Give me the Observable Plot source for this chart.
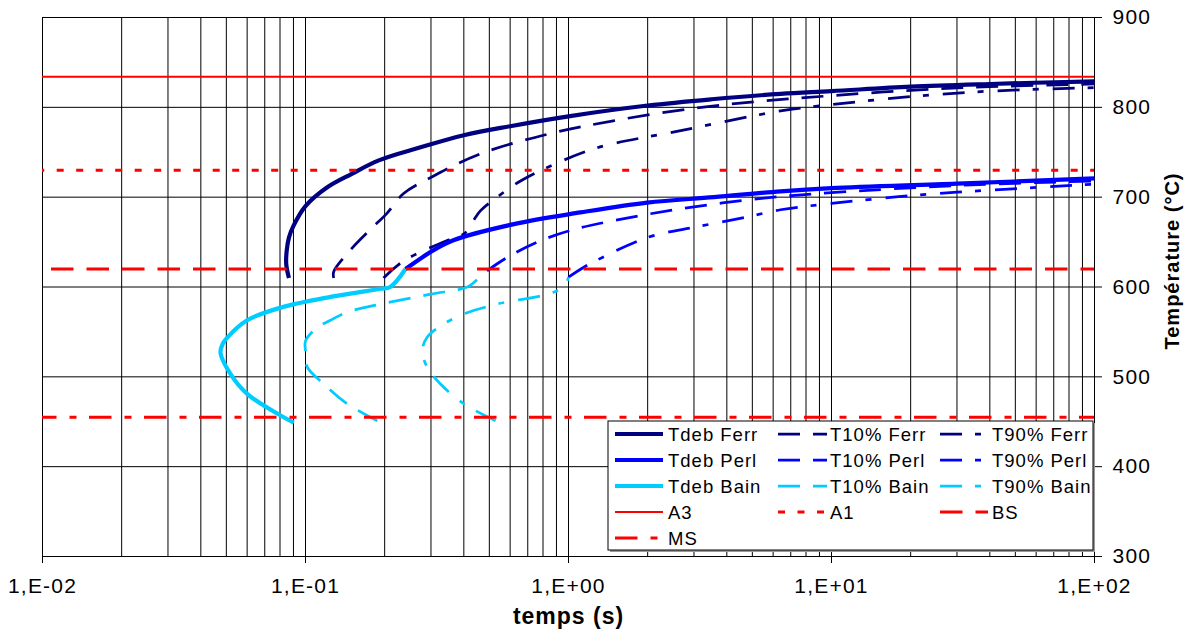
<!DOCTYPE html>
<html>
<head>
<meta charset="utf-8">
<script src="https://cdn.jsdelivr.net/npm/d3@7"></script>
<script src="https://cdn.jsdelivr.net/npm/@observablehq/plot@0.6"></script>
<style>
  html, body { margin: 0; padding: 0; background: #fff; }
  #chart { width: 1195px; height: 634px; }
</style>
</head>
<body>
<div id="chart"></div>
<script>
// ---------- DATA ----------
const xTickValues = [0.01, 0.1, 1, 10, 100];
const xTickLabels = ["1,E-02", "1,E-01", "1,E+00", "1,E+01", "1,E+02"];
const yTickValues = [300, 400, 500, 600, 700, 800, 900];
const gridX = [0.01, 0.02, 0.03, 0.04, 0.05, 0.06, 0.07, 0.08, 0.09,
               0.1, 0.2, 0.3, 0.4, 0.5, 0.6, 0.7, 0.8, 0.9,
               1, 2, 3, 4, 5, 6, 7, 8, 9,
               10, 20, 30, 40, 50, 60, 70, 80, 90, 100];

// [time (s), temperature (°C)]
const tdebFerr = [[0.0865,610],[0.0845,625],[0.0848,640],[0.0865,655],[0.09,668],[0.1,690],[0.121,711],[0.15,726],[0.19,741],[0.27,755],[0.4,769],[0.6,779],[1,790],[2,802],[3.5,809],[6.4,815],[10,818],[20,823],[40,826],[100,829]];
const t10Ferr  = [[0.128,610],[0.128,617],[0.148,641],[0.175,663],[0.204,682],[0.236,704],[0.3,722],[0.46,748],[0.83,770],[1.48,785],[3,799],[5.5,807],[10,813],[20,819],[40,823],[100,826]];
const t90Ferr  = [[0.198,610],[0.236,629],[0.347,652],[0.404,660],[0.435,674],[0.463,685],[0.535,700],[0.657,718],[0.83,733],[1.285,755],[2.67,774],[6.4,796],[10,803],[20,812],[40,818],[100,822]];
const tdebPerl = [[0.24,620],[0.307,641],[0.365,652],[0.62,670],[1.11,683],[1.99,694],[3.57,700],[6.4,706.5],[10,710],[30,715],[100,721]];
const t10Perl  = [[0.49,618],[0.585,633],[0.761,650],[1.018,663],[1.49,674],[2.67,687],[5.53,699],[10,705],[30,713],[100,718]];
const t90Perl  = [[1.0,611],[1.143,622],[1.285,630],[1.99,655],[3.08,667],[4.78,678],[6.4,686],[10,693],[18,700.5],[30,705.5],[100,714.5]];
const tdebBain = [[0.0903,449],[0.0804,457],[0.06,481],[0.0519,503],[0.0475,527],[0.0485,537],[0.0505,544],[0.06,563],[0.0804,577],[0.1245,589],[0.193,598],[0.21,600],[0.24,620]];
const t10Bain  = [[0.1875,451],[0.144,470],[0.1174,492],[0.1015,511],[0.1,529],[0.1,540],[0.111,555],[0.1245,563],[0.144,572],[0.193,581],[0.299,592],[0.412,600],[0.46,611],[0.49,618]];
const t90Bain  = [[0.528,451],[0.4,470],[0.326,492],[0.29,511],[0.278,529],[0.29,544],[0.336,559],[0.4,570],[0.535,581],[0.83,592],[0.96,600],[1.0,611]];

const refNames = ["A3", "A1", "BS", "MS"];
const refTemps = [834, 730, 620, 455];

const legendLabels = ["Tdeb Ferr", "T10% Ferr", "T90% Ferr",
                      "Tdeb Perl", "T10% Perl", "T90% Perl",
                      "Tdeb Bain", "T10% Bain", "T90% Bain",
                      "A3", "A1", "BS", "MS"];

// ---------- STYLES ----------
const NAVY = "#000080", BLUE = "#0000FF", CYAN = "#00CCFF", RED = "#FF0000";
const DASH = "22,13", DASHDOT = "22,13,6,14";
const styles = {
  "Tdeb Ferr": {stroke: NAVY, w: 4.2, dash: null},
  "T10% Ferr": {stroke: NAVY, w: 2.75, dash: DASH},
  "T90% Ferr": {stroke: NAVY, w: 2.75, dash: DASHDOT},
  "Tdeb Perl": {stroke: BLUE, w: 4.2, dash: null},
  "T10% Perl": {stroke: BLUE, w: 2.75, dash: DASH},
  "T90% Perl": {stroke: BLUE, w: 2.75, dash: DASHDOT},
  "Tdeb Bain": {stroke: CYAN, w: 4.2, dash: null},
  "T10% Bain": {stroke: CYAN, w: 2.75, dash: DASH},
  "T90% Bain": {stroke: CYAN, w: 2.75, dash: DASHDOT},
  "A3": {stroke: RED, w: 2, dash: null, off: 0},
  "A1": {stroke: RED, w: 3, dash: "7,12.5", off: 4.8},
  "BS": {stroke: RED, w: 3, dash: "22.5,13", off: 26.5},
  "MS": {stroke: RED, w: 3, dash: "22.5,13,7,12.5", off: 8}
};
const seriesData = {
  "Tdeb Ferr": tdebFerr, "T10% Ferr": t10Ferr, "T90% Ferr": t90Ferr,
  "Tdeb Perl": tdebPerl, "T10% Perl": t10Perl, "T90% Perl": t90Perl,
  "Tdeb Bain": tdebBain, "T10% Bain": t10Bain, "T90% Bain": t90Bain
};

const FONT = "Arial, 'Liberation Sans', Helvetica, sans-serif";

const lineMarks = Object.keys(seriesData).map(name => {
  const s = styles[name];
  const o = {x: d => d[0], y: d => d[1], stroke: s.stroke, strokeWidth: s.w,
             curve: "catmull-rom", strokeLinejoin: "round", strokeLinecap: "butt"};
  if (s.dash) o.strokeDasharray = s.dash;
  return Plot.line(seriesData[name], o);
});

const refMarks = refNames.map((name, i) => {
  const s = styles[name];
  const o = {stroke: s.stroke, strokeWidth: s.w};
  if (s.dash) { o.strokeDasharray = s.dash; o.strokeDashoffset = s.off; }
  return Plot.ruleY([refTemps[i]], o);
});

const chart = Plot.plot({
  width: 1195,
  height: 634,
  marginLeft: 42,
  marginRight: 101,
  marginTop: 17,
  marginBottom: 78,
  style: {fontFamily: FONT, fontSize: "20px", background: "#fff", color: "#000", overflow: "visible"},
  x: {type: "log", domain: [0.01, 100]},
  y: {domain: [300, 900]},
  marks: [
    Plot.ruleY(yTickValues, {stroke: "#000", strokeWidth: 1}),
    Plot.ruleX(gridX, {stroke: "#000", strokeWidth: 1}),
    ...lineMarks,
    ...refMarks,
    Plot.axisX({ticks: xTickValues, tickFormat: (d) => xTickLabels[xTickValues.indexOf(d)],
                tickSize: 7, tickPadding: 15, fontSize: 21, label: null, anchor: "bottom"}),
    Plot.axisY({ticks: yTickValues, tickFormat: d => String(d), anchor: "right",
                tickSize: 7, tickPadding: 11, fontSize: 21, label: null}),
    Plot.text(["temps (s)"], {frameAnchor: "bottom", dy: 67, fontSize: 23, fontWeight: "bold", textAnchor: "middle"}),
    Plot.text(["Température (°C)"], {frameAnchor: "right", dx: 78, dy: -26, rotate: -90, fontSize: 20, fontWeight: "bold", textAnchor: "middle"})
  ]
});

document.getElementById("chart").appendChild(chart);

// letter spacing to mimic the slightly wide original type
d3.select(chart).selectAll("[aria-label='x-axis tick label'] text").style("letter-spacing", "1.2px");
d3.select(chart).selectAll("[aria-label='y-axis tick label'] text").style("letter-spacing", "1.2px");
d3.select(chart).selectAll("[aria-label='text'] text").style("letter-spacing", "1px");

// ---------- LEGEND (drawn inside the plot frame) ----------
const svg = d3.select(chart);
const lg = svg.append("g").attr("class", "legend").attr("text-anchor", "start");
const box = {x: 608, y: 421, w: 485, h: 129};
lg.append("rect").attr("x", box.x + 2).attr("y", box.y + 2).attr("width", box.w).attr("height", box.h)
  .attr("fill", "#999");
lg.append("rect").attr("x", box.x).attr("y", box.y).attr("width", box.w).attr("height", box.h)
  .attr("fill", "#fff").attr("stroke", "#000").attr("stroke-width", 1);
const colSample = [[615, 663], [778, 827], [940, 988]];
const colText = [668, 830, 992];
const row0 = 434, rowStep = 26;
legendLabels.forEach((name, i) => {
  const col = i % 3, row = Math.floor(i / 3);
  const s = styles[name];
  const cy = row0 + row * rowStep;
  const ln = lg.append("line")
    .attr("x1", colSample[col][0]).attr("x2", colSample[col][1])
    .attr("y1", cy).attr("y2", cy)
    .attr("stroke", s.stroke).attr("stroke-width", s.w);
  if (s.dash) ln.attr("stroke-dasharray", s.dash);
  lg.append("text").attr("x", colText[col]).attr("y", cy + 6.5)
    .attr("text-anchor", "start")
    .attr("font-family", FONT).attr("font-size", 18.5).attr("fill", "#000")
    .style("letter-spacing", "1px")
    .text(name);
});
</script>
</body>
</html>
